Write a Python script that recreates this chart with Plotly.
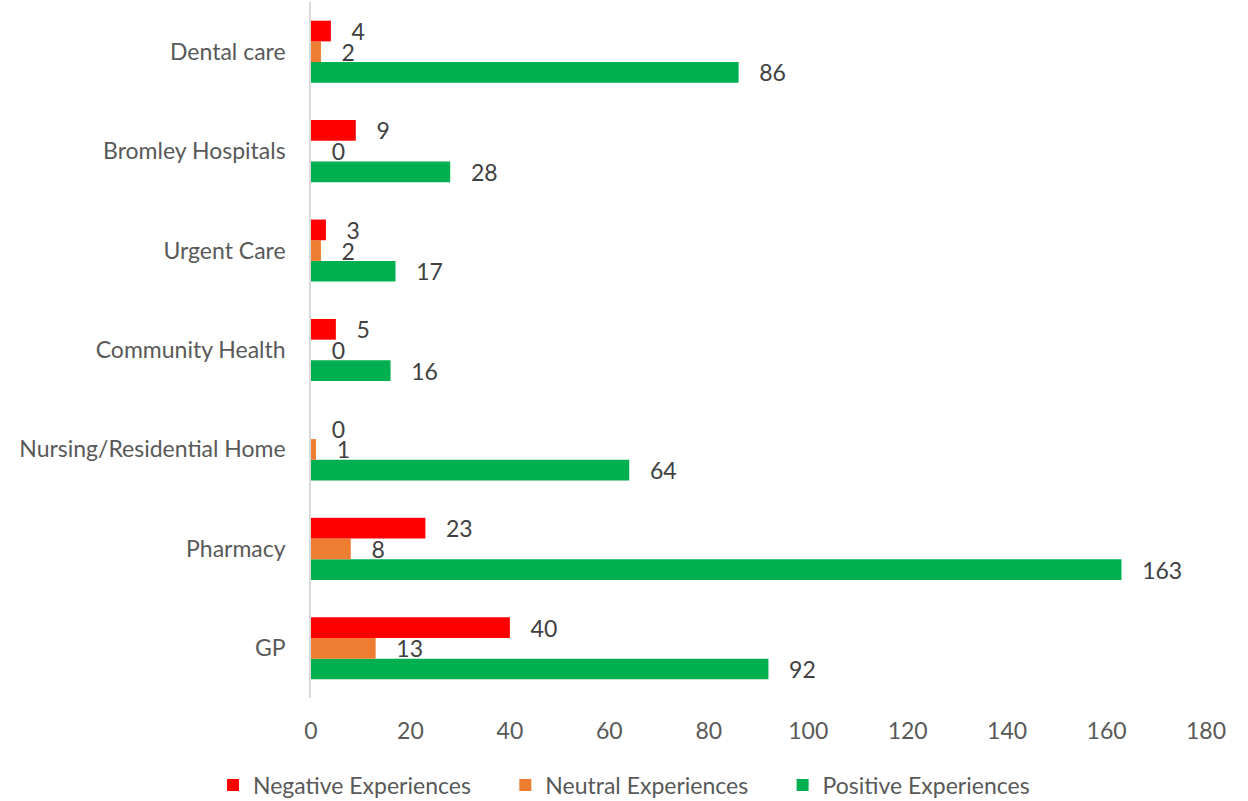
import plotly.graph_objects as go

categories = ["GP", "Pharmacy", "Nursing/Residential Home", "Community Health",
              "Urgent Care", "Bromley Hospitals", "Dental care"]
negative = [40, 23, 0, 5, 3, 9, 4]
neutral = [13, 8, 1, 0, 2, 0, 2]
positive = [92, 163, 64, 16, 17, 28, 86]
x_ticks = [0, 20, 40, 60, 80, 100, 120, 140, 160, 180]

FONT = "Lato"
FS = 23
PAD = "\u00a0" * 5
fig = go.Figure()

series = [
    ("Positive Experiences", positive, "#00B050", 3),
    ("Neutral Experiences" + PAD, neutral, "#ED7D31", 2),
    ("Negative Experiences" + PAD, negative, "#FF0000", 1),
]
for name, vals, color, rank in series:
    fig.add_trace(go.Bar(
        y=categories, x=vals, name=name, orientation="h",
        marker=dict(color=color, line=dict(width=0)),
        text=vals, texttemplate="   %{x}", textposition="outside",
        textfont=dict(family=FONT, size=FS, color="#404040"),
        constraintext="none", cliponaxis=False, legendrank=rank,
    ))

fig.update_layout(
    width=1248, height=801,
    barmode="group", bargap=0.376, bargroupgap=0,
    plot_bgcolor="white", paper_bgcolor="white",
    margin=dict(l=311, r=42, t=2, b=103),
    font=dict(family=FONT, size=FS, color="#595959"),
    xaxis=dict(range=[0, 180], tickvals=x_ticks, showgrid=False, zeroline=False,
               showline=False, ticklabelstandoff=17, automargin=False,
               tickfont=dict(family=FONT, size=FS, color="#595959")),
    yaxis=dict(showgrid=False, showline=True, linecolor="#D9D9D9", linewidth=1.5,
               ticks="", ticklabelstandoff=19, automargin=False,
               tickfont=dict(family=FONT, size=FS, color="#595959")),
    legend=dict(orientation="h", xref="container", x=0.5, xanchor="center",
                yref="container", y=0.02, yanchor="middle",
                font=dict(family=FONT, size=FS, color="#595959")),
    showlegend=True,
)

fig.write_html("out.html", config={"displayModeBar": False},
               post_script="document.body.style.margin='0';")
